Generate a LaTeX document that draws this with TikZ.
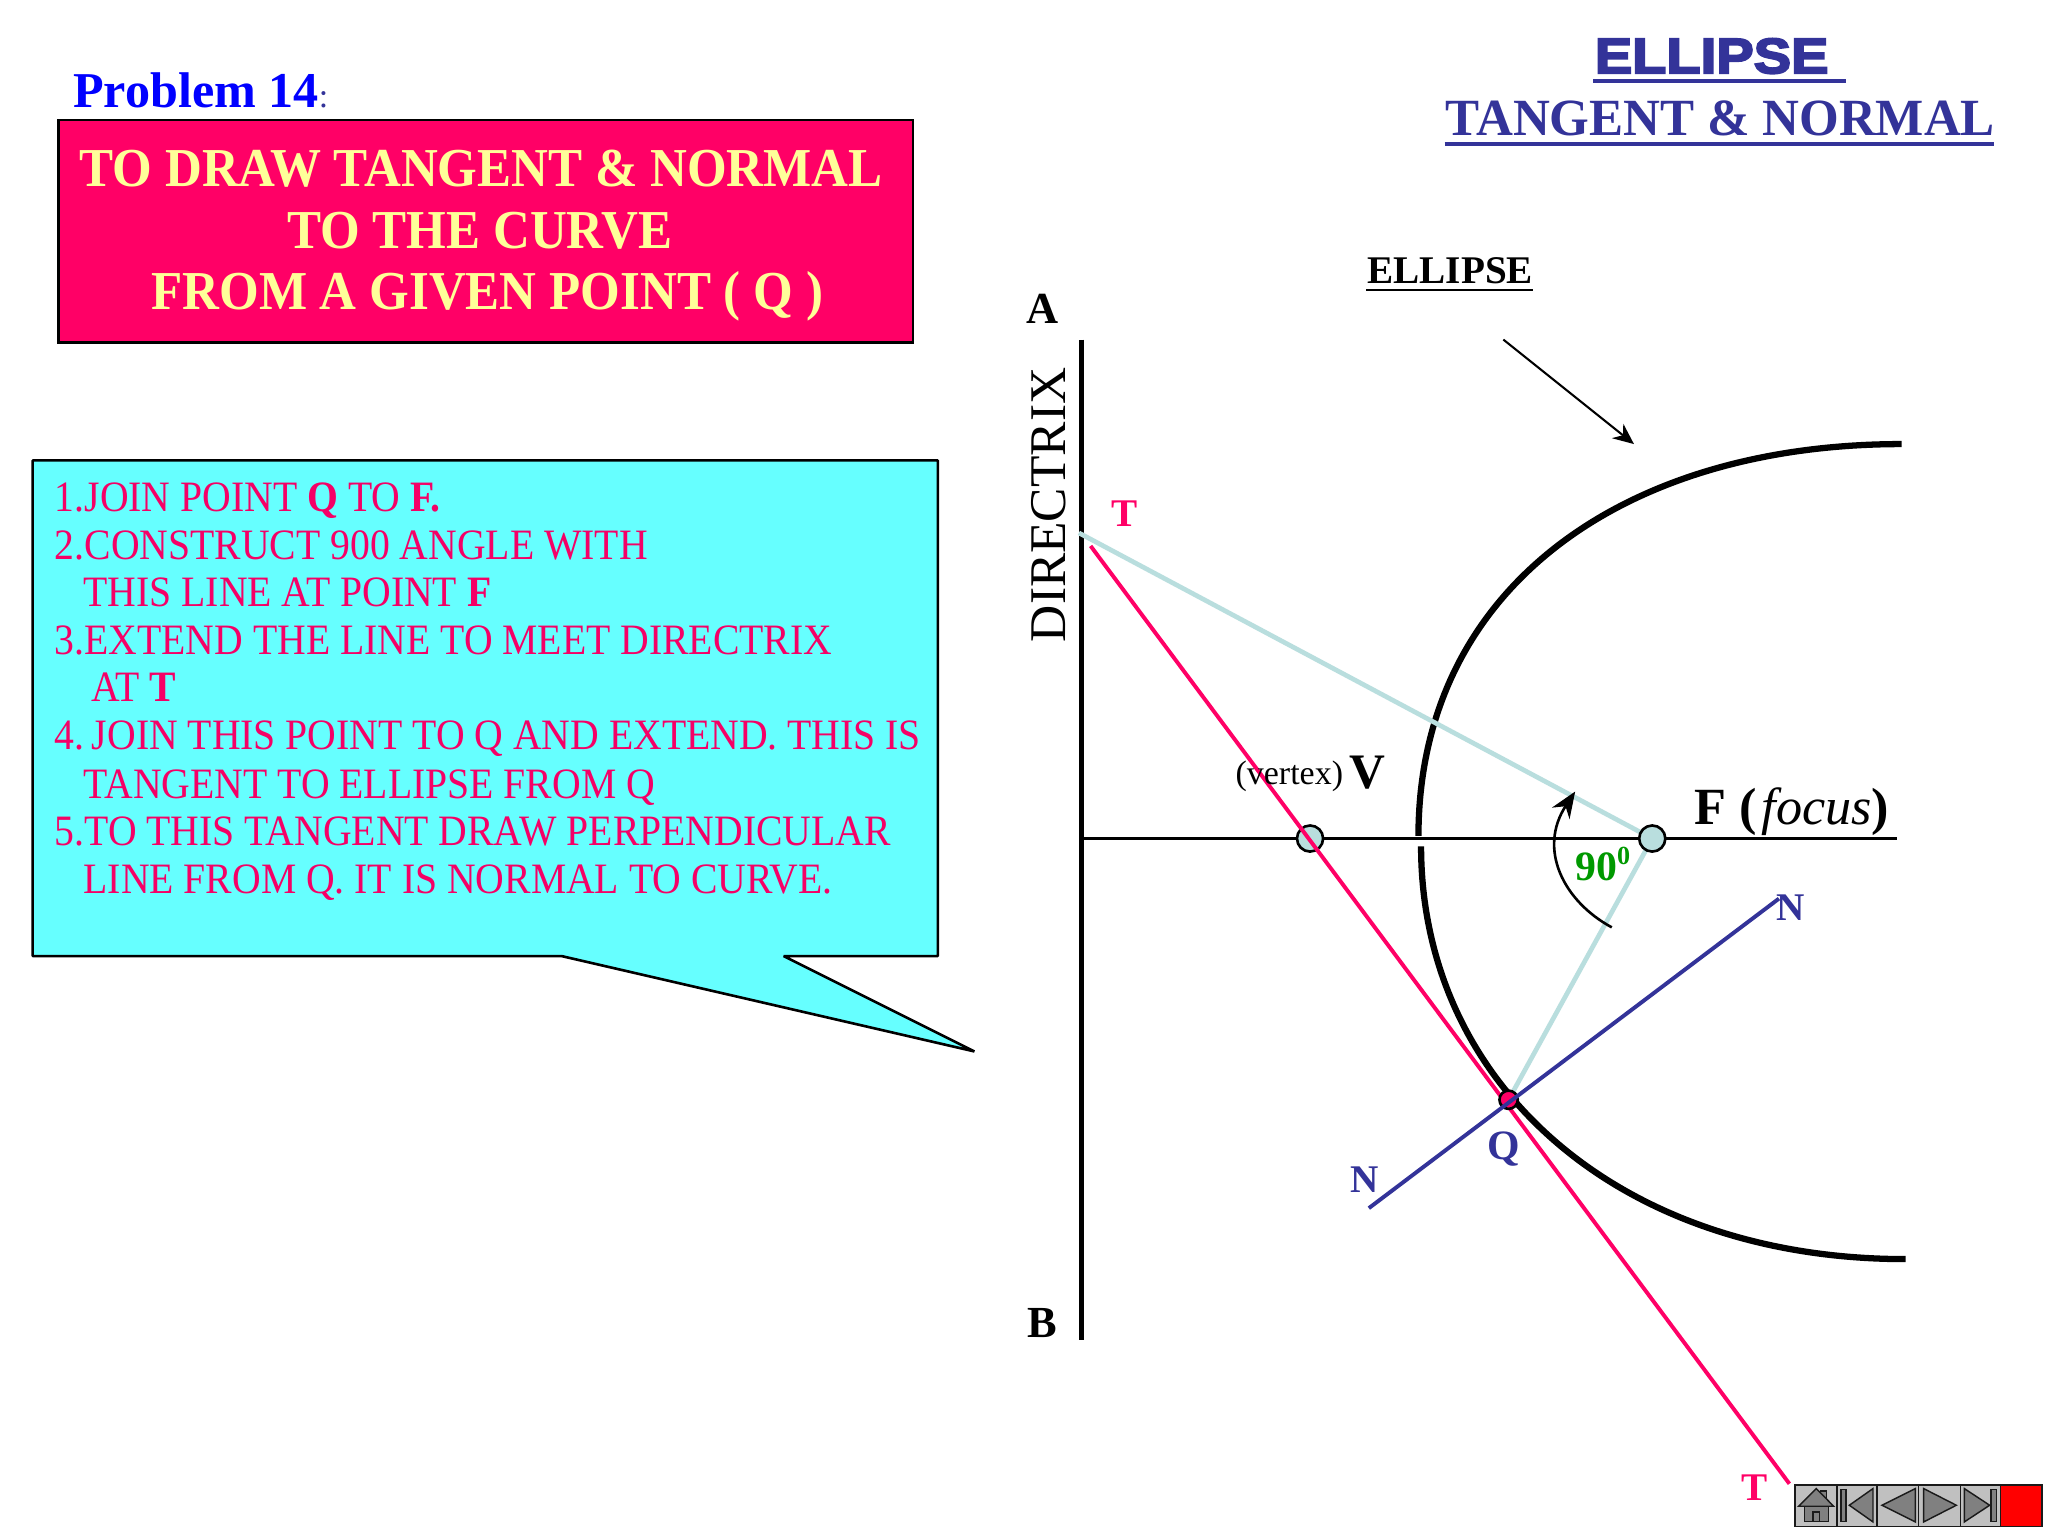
\documentclass[tikz,border=0pt]{standalone}
\usepackage{fontspec}
\setmainfont{Liberation Serif}
\newfontfamily\fatfont[FakeBold=4,FakeStretch=1.13]{Liberation Sans Bold}
\newfontfamily\stepfont[FakeStretch=0.915]{Liberation Serif}
\newfontfamily\headfont[FakeStretch=0.93]{Liberation Serif}
\newfontfamily\titlefont[FakeStretch=0.977]{Liberation Serif}
\usetikzlibrary{arrows.meta}
\definecolor{pinkred}{HTML}{FF0066}
\definecolor{boxtext}{HTML}{FFFF99}
\definecolor{calloutfill}{HTML}{66FFFF}
\definecolor{steptext}{HTML}{F50066}
\definecolor{navy}{HTML}{333399}
\definecolor{paleline}{HTML}{B9DEDE}
\definecolor{greenlabel}{HTML}{009900}
\definecolor{navgray}{HTML}{C0C0C0}
\definecolor{navdark}{HTML}{808080}
\definecolor{navline}{HTML}{1A1A1A}
\newcommand{\fs}[1]{\fontsize{#1}{#1}\selectfont}
\tikzset{
  txt/.style={inner sep=0pt,outer sep=0pt,anchor=base west},
  ctr/.style={inner sep=0pt,outer sep=0pt,anchor=base},
  steptxt/.style={txt,text=steptext,font=\fs{16.6}\stepfont},
  headtxt/.style={ctr,text=boxtext,font=\fs{21}\headfont\bfseries},
  pointlabel/.style={ctr,font=\fs{17}\bfseries},
  dot/.style={circle,draw=black,line width=1pt,fill=paleline,inner sep=0pt,minimum size=10pt},
  navbtn/.style={draw=navline,line width=.55pt,fill=navgray},
  navglyph/.style={draw=navline,line width=.55pt,fill=navdark},
}
\begin{document}
\begin{tikzpicture}[x=.5pt,y=-.5pt]
\useasboundingbox (0,0) rectangle (1568,1176);
\fill[white] (0,0) rectangle (1568,1176);

% header
\node[txt,text=blue,font=\fs{19.2}\bfseries] (prob) at (56,82) {Problem 14\textmd{\fs{13}\textcolor{navy}{:}}};
\node[draw=black,line width=1pt,fill=pinkred,minimum width=327pt,minimum height=85pt,inner sep=0pt,anchor=north west] (headbox) at (44,91) {};
\node[headtxt] (h1) at (368.5,143) {TO DRAW TANGENT \& NORMAL};
\node[headtxt] (h2) at (367.5,190) {TO THE CURVE};
\node[headtxt] (h3) at (373,237) {FROM A GIVEN POINT ( Q )};

% title
\node[txt,text=navy,font=\fs{19}\fatfont] (t1) at (1221,56) {ELLIPSE};
\node[txt,text=navy,font=\fs{20}\titlefont\bfseries] (t2) at (1107,104) {TANGENT \& NORMAL};
\coordinate (u1a) at (1220,62); \coordinate (u1b) at (1413,62);
\coordinate (u2a) at (1106,110); \coordinate (u2b) at (1527,110);
\draw[navy,line width=1.2pt] (u1a) -- (u1b);
\draw[navy,line width=1.5pt] (u2a) -- (u2b);

% callout
\draw[fill=calloutfill,draw=black,line width=1pt,line join=bevel] (25,352.5) -- (718,352.5) -- (718,732) -- (600,732) -- (746,805) -- (430,732) -- (25,732) -- cycle;
\node[steptxt] (s1) at (42,392) {1.JOIN POINT \textbf{Q} TO \textbf{F.}};
\node[steptxt] (s2) at (42,428) {2.CONSTRUCT 900 ANGLE WITH};
\node[steptxt] (s3) at (64,464) {THIS LINE AT POINT \textbf{F}};
\node[steptxt] (s4) at (42,501) {3.EXTEND THE LINE TO MEET DIRECTRIX};
\node[steptxt] (s5) at (70,537) {AT \textbf{T}};
\node[steptxt] (s6) at (42,574) {4.\hspace{.17em}JOIN THIS POINT TO Q AND EXTEND. THIS IS};
\node[steptxt] (s7) at (64,611) {TANGENT TO ELLIPSE FROM Q};
\node[steptxt] (s8) at (42,647) {5.TO THIS TANGENT DRAW PERPENDICULAR};
\node[steptxt] (s9) at (64,684) {LINE FROM Q. IT IS NORMAL TO CURVE.};

% geometry points
\coordinate (A) at (828,260);
\coordinate (B) at (828,1026);
\coordinate (axL) at (830,642);
\coordinate (axR) at (1452,642);
\coordinate (Ttop) at (835,418);
\coordinate (Tbot) at (1370,1136);
\coordinate (Ntop) at (1362,688);
\coordinate (Nbot) at (1048,925);
\coordinate (Dpt) at (826,408);
\coordinate (Qc) at (1155,842);
\coordinate (Fc) at (1265,642);

% ellipse curve
\draw[line width=2.4pt] (1086,640) .. controls (1086,452) and (1241,340) .. (1456,340);
\draw[line width=2.4pt] (1088,648) .. controls (1088,828) and (1237,964) .. (1459,964);

\draw[line width=2pt] (A) -- (B);
\draw[line width=1pt] (axL) -- (axR);
\draw[paleline,line width=1.8pt] (Dpt) -- (Fc) -- (Qc);
\node[dot] (V) at (1003,642) {};
\node[dot] (F) at (Fc) {};
\draw[pinkred,line width=1.5pt] (Ttop) -- (Tbot);
\node[circle,draw=black,line width=1pt,fill=pinkred,inner sep=0pt,minimum size=7pt] (Q) at (Qc) {};
\draw[navy,line width=1.5pt] (Nbot) -- (Ntop);

% arrows
\coordinate (arcS) at (1234,710);
\coordinate (arcE) at (1206,606);
\draw[line width=1pt,-{Stealth[length=10pt,width=8pt]}] (arcS) .. controls (1197,690) and (1177,650) .. (arcE);
\coordinate (ea) at (1151,260);
\coordinate (eb) at (1251,340);
\draw[line width=.8pt,-{Stealth[length=8pt,width=7pt]}] (ea) -- (eb);

% labels
\node[txt,font=\fs{15}\bfseries] (ell) at (1047,217) {ELLIPSE};
\coordinate (ula) at (1046,222); \coordinate (ulb) at (1174,222);
\draw[line width=1pt] (ula) -- (ulb);
\node[pointlabel] (lA) at (798,248) {A};
\node[pointlabel] (lB) at (798,1024) {B};
\node[inner sep=0pt,anchor=base west,rotate=90,font=\fs{19.7}] (dir) at (816,492) {DIRECTRIX};
\node[pointlabel,text=pinkred,font=\fs{15}\bfseries] (lT1) at (861,403) {T};
\node[pointlabel,text=pinkred,font=\fs{15}\bfseries] (lT2) at (1343,1149) {T};
\node[pointlabel,text=navy,font=\fs{15}\bfseries] (lN1) at (1371,705) {N};
\node[pointlabel,text=navy,font=\fs{15}\bfseries] (lN2) at (1045,913) {N};
\node[pointlabel,text=navy,font=\fs{16}\bfseries] (lQ) at (1151,888) {Q};
\node[txt,font=\fs{13}] (lvx) at (946,601) {(vertex)};
\node[txt,font=\fs{19}\bfseries] (lV) at (1033,604) {V};
\node[txt,font=\fs{20}] (lF) at (1297,631) {\textbf{F (}\hspace{.1em}\textit{focus}\textbf{)}};
\node[txt,text=greenlabel,font=\fs{16}\bfseries] (l90) at (1206,674) {90\raisebox{.38em}{\fs{10}0}};

% navigation strip (coordinates of a 3x crop)
\begin{scope}[x=.12762pt,y=-.12762pt,shift={(5340,4380)}]
\draw[navbtn] (44,74) rectangle (170,198);
\draw[navbtn] (170,74) rectangle (290,198);
\draw[navbtn] (290,74) rectangle (415,198);
\draw[navbtn] (415,74) rectangle (540,198);
\draw[navbtn] (540,74) rectangle (660,198);
\draw[navline,line width=.55pt,fill=red] (660,74) rectangle (785,198);
\draw[navglyph] (120,92) rectangle (138,112);
\draw[navglyph] (108,85) -- (55,138) -- (160,138) -- cycle;
\draw[navglyph] (72,138) rectangle (145,183);
\draw[navglyph] (98,155) rectangle (117,183);
\draw[navglyph] (182,88) rectangle (197,183);
\draw[navglyph] (278,85) -- (207,135) -- (278,185) -- cycle;
\draw[navglyph] (405,85) -- (305,135) -- (405,185) -- cycle;
\draw[navglyph] (430,85) -- (528,135) -- (430,185) -- cycle;
\draw[navglyph] (552,85) -- (628,135) -- (552,185) -- cycle;
\draw[navglyph] (632,88) rectangle (648,183);
\end{scope}
\end{tikzpicture}
\end{document}
